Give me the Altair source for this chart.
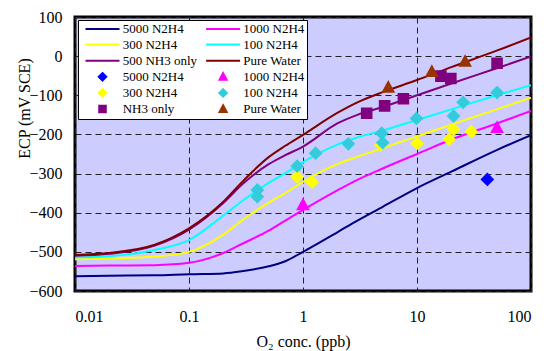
import altair as alt
import pandas as pd

# ---- fitted curves ----
x_grid = [0.01, 0.02, 0.05, 0.1, 0.2, 0.3, 0.5, 0.7, 1, 2, 3, 5, 10, 20, 50, 100]
line_names = ["5000 N2H4", "1000 N2H4", "300 N2H4", "100 N2H4", "500 NH3 only", "Pure Water"]
curve_5000 = [-562, -561, -560, -557, -555, -549, -537, -524, -500, -450, -420, -385, -337, -295, -240, -202]
curve_1000 = [-536, -535, -534, -528, -503, -478, -446, -420, -393, -343, -316, -287, -250, -213, -172, -140]
curve_300 = [-519, -517, -512, -500, -456, -417, -374, -350, -321, -276, -257, -235, -205, -175, -136, -106]
curve_100 = [-514, -511, -495, -470, -407, -368, -324, -299, -271, -226, -208, -190, -163, -136, -100, -74]
curve_nh3 = [-510, -505, -484, -443, -375, -325, -276, -253, -231, -172, -150, -130, -100, -70, -31, -1]
curve_pure = [-508, -503, -482, -440, -372, -318, -258, -229, -201, -145, -118, -92, -61, -28, 14, 48]
curves = [curve_5000, curve_1000, curve_300, curve_100, curve_nh3, curve_pure]
line_colors = ["#000080", "#FF00FF", "#FFFF00", "#00FFFF", "#800080", "#800000"]

# ---- measured points ----
pt_names = ["5000 N2H4", "1000 N2H4", "300 N2H4", "100 N2H4", "NH3 only", "Pure Water"]
o2_5000 = [41.4]
ecp_5000 = [-315]
o2_1000 = [1.0, 50.4]
ecp_1000 = [-380, -183]
o2_300 = [0.89, 1.2, 4.8, 10.0, 19.1, 20.9, 29.9]
ecp_300 = [-308, -322, -227, -223, -212, -186, -193]
o2_100 = [0.398, 0.398, 0.89, 1.29, 2.5, 4.9, 5.0, 9.9, 20.9, 25.4, 50.4]
ecp_100 = [-342, -359, -281, -248, -224, -197, -221, -159, -153, -118, -93]
o2_nh3 = [3.62, 5.2, 7.6, 16.2, 19.8, 50.4]
ecp_nh3 = [-146, -127, -109, -51, -57, -18]
o2_pure = [5.6, 13.5, 26.4]
ecp_pure = [-80, -40, -14]
pt_o2 = [o2_5000, o2_1000, o2_300, o2_100, o2_nh3, o2_pure]
pt_ecp = [ecp_5000, ecp_1000, ecp_300, ecp_100, ecp_nh3, ecp_pure]
pt_colors = ["#0000FF", "#FF00FF", "#FFFF00", "#33CCDD", "#800080", "#993300"]

# marker outlines (unit coordinates, scaled by the symbol size);
# the trailing moves give every legend symbol the same height
pad = "M0,-2M0,2"
diamond = "M0,-2L2,0L0,2L-2,0Z" + pad
square = "M-1.75,-1.75L1.75,-1.75L1.75,1.75L-1.75,1.75Z" + pad
triangle = "M0,-1.95L1.9,1.55L-1.9,1.55Z" + pad
line_path = "M-9.09,0L9.09,0" + pad
pt_shapes = [diamond, triangle, diamond, diamond, square, triangle]

line_rows = []
for name, ys in zip(line_names, curves):
    for x, y in zip(x_grid, ys):
        line_rows.append({"o2": x, "ecp": y, "key": "L:" + name})
lines_df = pd.DataFrame(line_rows)

pt_rows = []
for name, xs, ys in zip(pt_names, pt_o2, pt_ecp):
    for x, y in zip(xs, ys):
        pt_rows.append({"o2": x, "ecp": y, "key": "P:" + name})
pts_df = pd.DataFrame(pt_rows)

line_keys = ["L:" + n for n in line_names]
pt_keys = ["P:" + n for n in pt_names]
domain = line_keys + pt_keys
color_range = line_colors + pt_colors
shape_range = [line_path] * 6 + pt_shapes
right_col = [line_keys[1], line_keys[3], line_keys[5], pt_keys[1], pt_keys[3], pt_keys[5]]

serif = "'Times New Roman', 'Liberation Serif', 'DejaVu Serif', serif"

x_enc = alt.X("o2:Q", scale=alt.Scale(type="log", domain=[0.01, 100], nice=False),
              axis=alt.Axis(values=[0.01, 0.1, 1, 10, 100], format="~g",
                            title="O₂ conc. (ppb)", labelPadding=17,
                            titleY=55, titleBaseline="alphabetic"))
y_enc = alt.Y("ecp:Q", scale=alt.Scale(domain=[-600, 100], nice=False, zero=False),
              axis=alt.Axis(values=list(range(-600, 101, 100)), title="ECP (mV SCE)",
                            labelPadding=13, titleX=-51, titleY=91,
                            titleAngle=-90, titleAlign="center", titleBaseline="middle"))

right_list = "[" + ",".join("'" + k + "'" for k in right_col) + "]"
legend = alt.Legend(
    title=None, orient="none", legendX=3, legendY=3, columns=2, direction="horizontal",
    symbolSize=14, symbolStrokeWidth=2, symbolOffset=16,
    labelOffset=13.7, labelFont=serif, labelFontSize=13, labelColor="black",
    labelExpr="substring(datum.label, 2) + (indexof(" + right_list + ", datum.value) >= 0 ? '   ' : '')",
    fillColor="white", strokeColor="black", padding=2,
    rowPadding=-0.9, columnPadding=2.6,
)

color_scale = alt.Scale(domain=domain, range=color_range)
shape_scale = alt.Scale(domain=domain, range=shape_range)

lines = alt.Chart(lines_df).mark_line(strokeWidth=2, interpolate="monotone", clip=True).encode(
    x=x_enc, y=y_enc,
    stroke=alt.Stroke("key:N", scale=color_scale, legend=legend, sort=domain),
)

points = alt.Chart(pts_df).mark_point(filled=True, opacity=1).encode(
    x=x_enc, y=y_enc,
    fill=alt.Fill("key:N", scale=color_scale, legend=legend, sort=domain),
    stroke=alt.Stroke("key:N", scale=color_scale, legend=legend, sort=domain),
    shape=alt.Shape("key:N", scale=shape_scale, legend=legend, sort=domain),
)

chart = alt.layer(lines, points).properties(
    width=456, height=274,
    autosize=alt.AutoSizeParams(type="none"),
    padding={"left": 75, "top": 17, "right": 13, "bottom": 60},
    background="white",
).configure_view(
    fill="#CCCCFF", stroke="black", strokeWidth=3
).configure_axis(
    grid=True, gridColor="#222222", gridDash=[6, 4], gridWidth=1,
    domain=False, ticks=False, tickSize=0,
    labelFont=serif, labelFontSize=16, labelColor="black",
    titleFont=serif, titleFontSize=16, titleFontWeight="normal", titleColor="black",
)

chart.save("out.html", embed_options={"renderer": "svg", "actions": False})
